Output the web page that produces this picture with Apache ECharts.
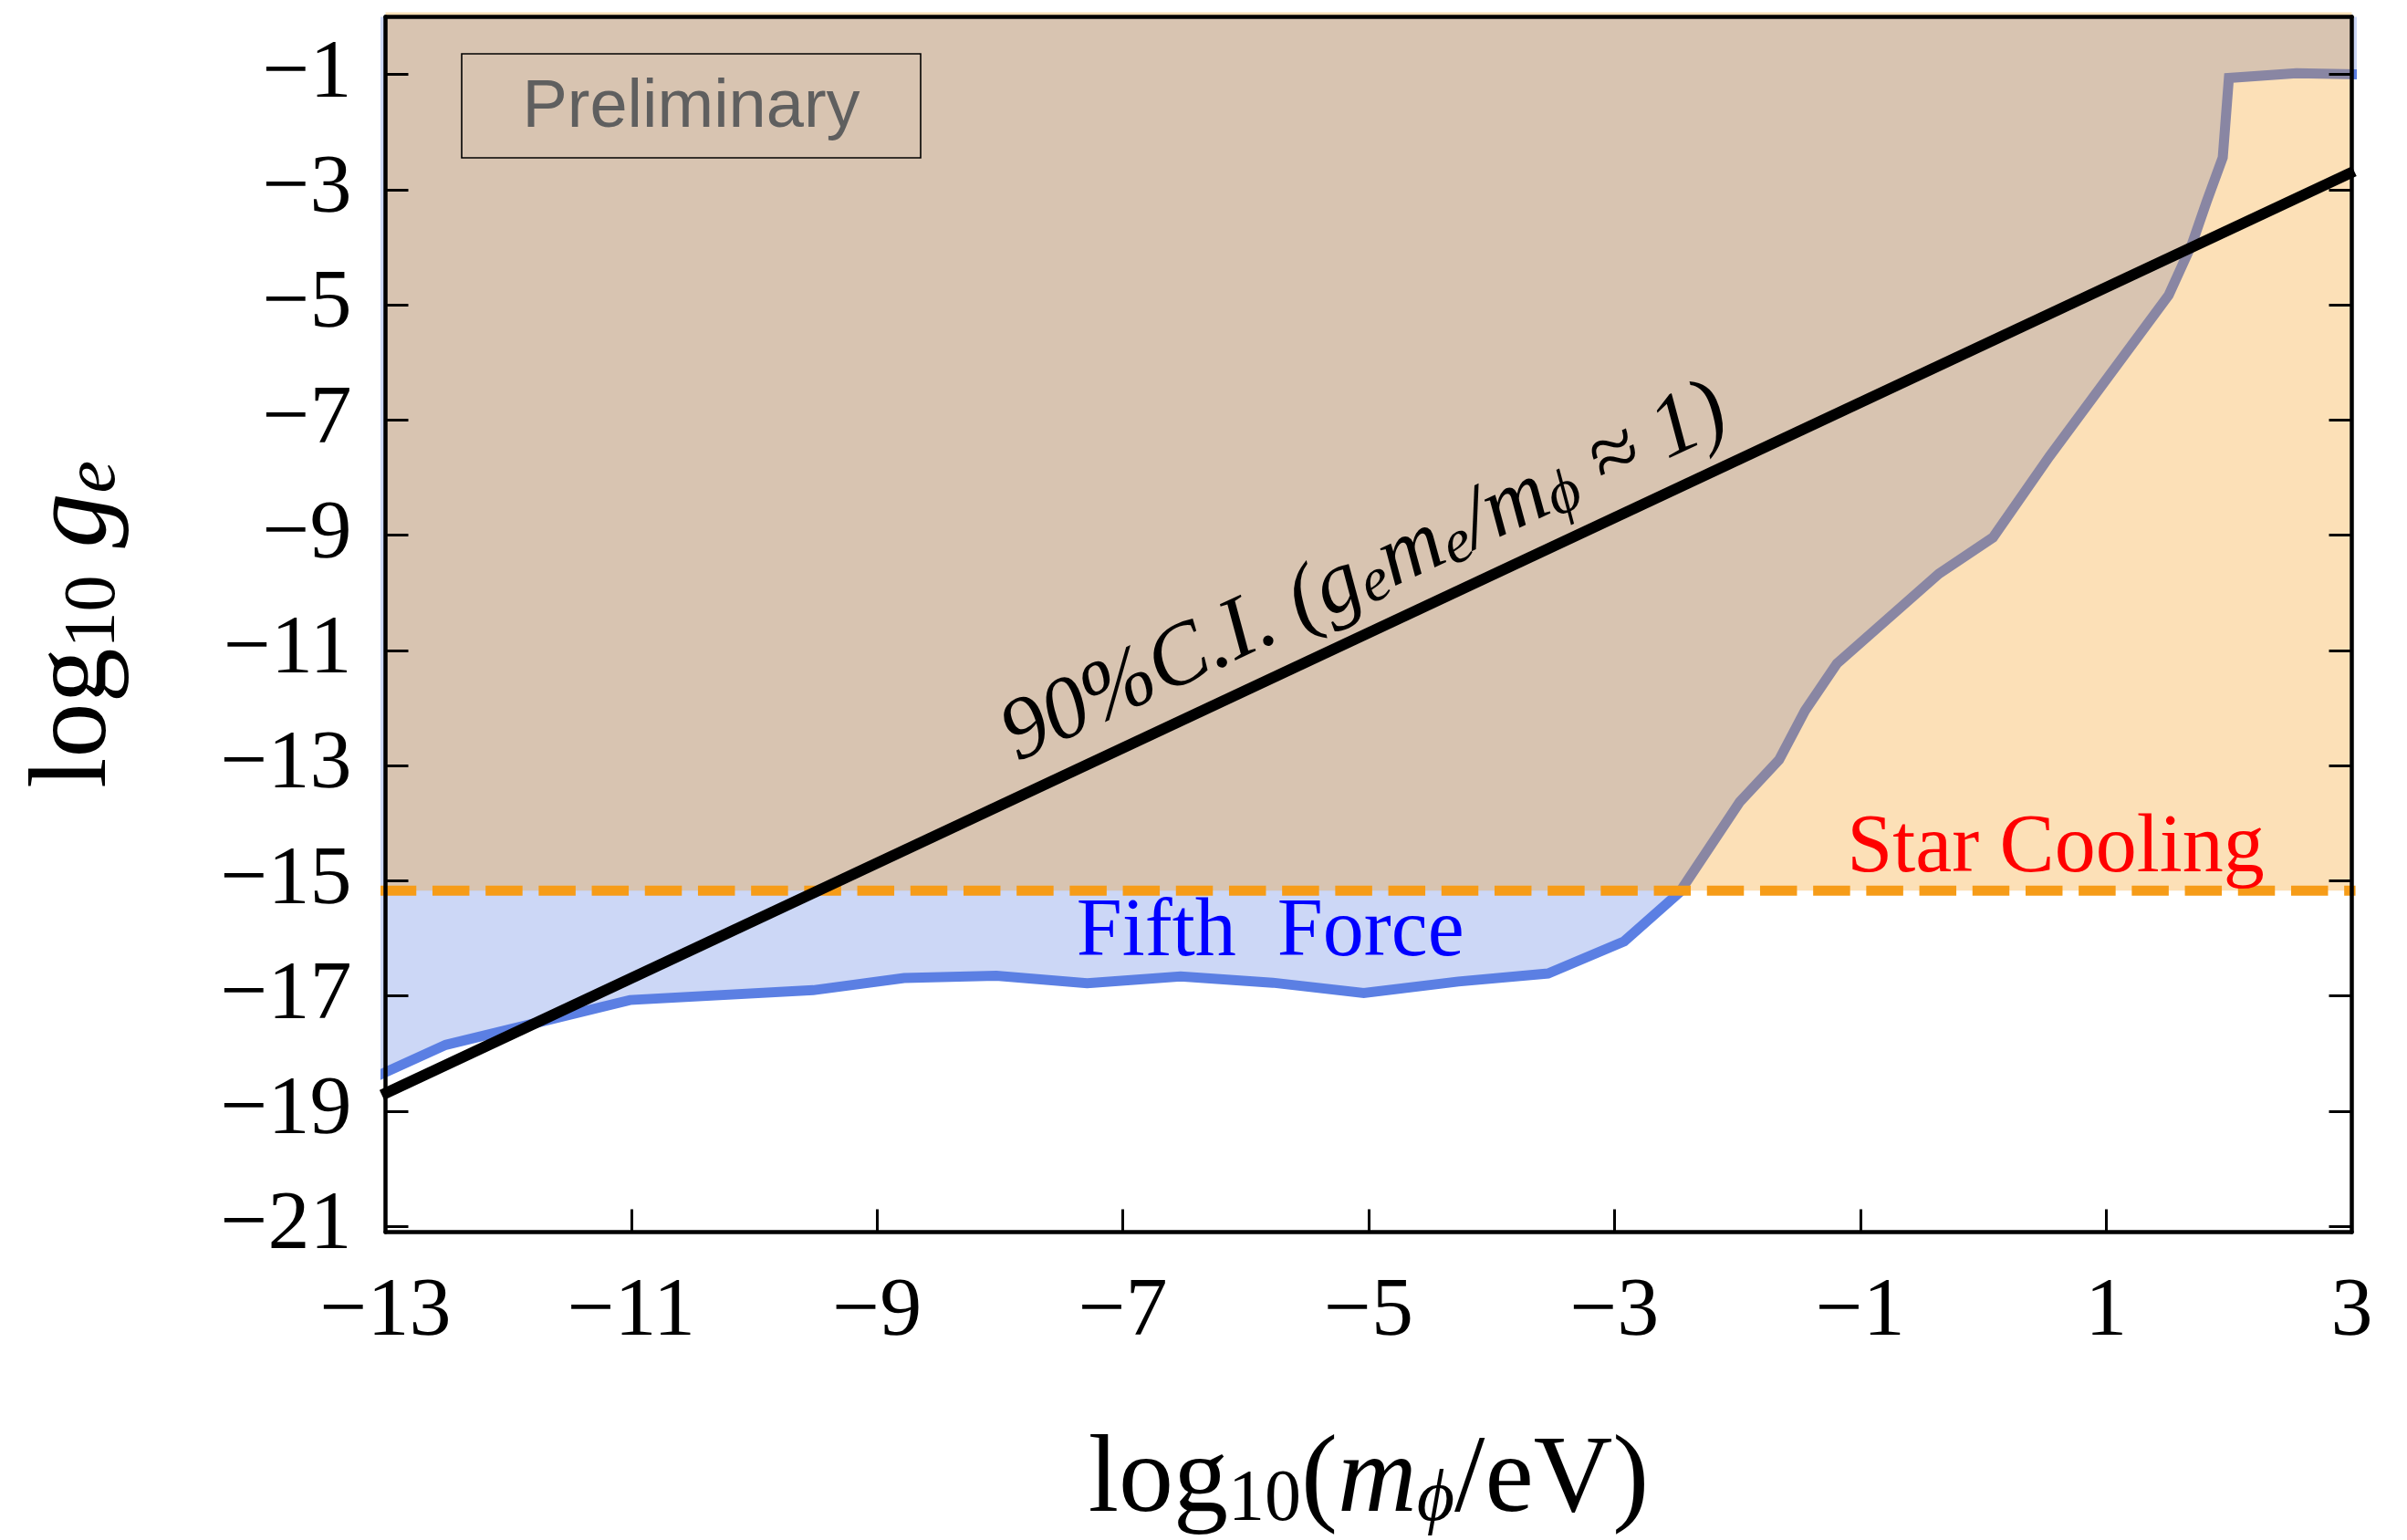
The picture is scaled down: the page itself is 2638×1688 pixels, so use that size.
<!DOCTYPE html>
<html>
<head>
<meta charset="utf-8">
<title>Fifth force vs star cooling</title>
<script src="https://cdn.jsdelivr.net/npm/echarts@6.0.0/dist/echarts.min.js"></script>
<style>
html,body{margin:0;padding:0;background:#ffffff;}
#chart{width:2638px;height:1688px;}
</style>
</head>
<body>
<div id="chart"></div>
<script>
// ---------------- data ----------------
const xTicks = [-13, -11, -9, -7, -5, -3, -1, 1, 3];
const yTicks = [-21, -19, -17, -15, -13, -11, -9, -7, -5, -3, -1];

// Fifth-force bound (blue): x = log10(m_phi/eV), y = log10(g_e)
const fifthForceX = [-13.08, -12.51, -11.01, -9.52, -8.78, -8.03, -7.29, -6.53, -5.78, -5.04, -4.27, -3.54, -2.92, -2.47, -1.98, -1.66, -1.45, -1.19, -0.36, 0.08, 0.54, 1.51, 1.70, 1.82, 1.95, 2.00, 2.55, 3.06];
const fifthForceY = [-18.40, -17.85, -17.07, -16.90, -16.69, -16.65, -16.78, -16.66, -16.77, -16.95, -16.75, -16.61, -16.05, -15.20, -13.63, -12.90, -12.05, -11.23, -9.67, -9.04, -7.63, -4.83, -3.94, -3.20, -2.44, -1.06, -0.98, -1.00];

// Star-cooling bound (orange, horizontal)
const starCoolingX = [-13.0, 3.0];
const starCoolingY = [-15.17, -15.17];
const starCoolingLineX = [-13.05, 3.03];
const starCoolingLineY = [-15.17, -15.17];

// 90% C.I. line (g_e m_e / m_phi ~ 1)
const ciX = [-13.03, 3.02];
const ciY = [-18.72, -2.68];

// -------------------------------------------------------------
const zip = (xs, ys) => xs.map((x, i) => [x, ys[i]]);
const fmt = v => (v < 0 ? '\u2212' : '') + Math.abs(v);

const SERIF = 'Liberation Serif';
const frameLine = { color: '#000', width: 4.5 };
const tickLine = { color: '#000', width: 3 };

const nameRich = {
  t:  { fontFamily: SERIF, fontSize: 120, lineHeight: 128, verticalAlign: 'bottom', color: '#000' },
  i:  { fontFamily: SERIF, fontStyle: 'italic', fontSize: 120, lineHeight: 128, verticalAlign: 'bottom', color: '#000' },
  s:  { fontFamily: SERIF, fontSize: 80, lineHeight: 48, verticalAlign: 'bottom', color: '#000' },
  si: { fontFamily: SERIF, fontStyle: 'italic', fontSize: 80, lineHeight: 48, verticalAlign: 'bottom', color: '#000' }
};

const ciRich = {
  t: { fontFamily: SERIF, fontStyle: 'italic', fontSize: 96, lineHeight: 110, verticalAlign: 'bottom', color: '#000' },
  s: { fontFamily: SERIF, fontStyle: 'italic', fontSize: 68, lineHeight: 54, verticalAlign: 'bottom', color: '#000' }
};

const noBorder = { textBorderWidth: 0, textBorderColor: 'transparent', textShadowBlur: 0 };

const chart = echarts.init(document.getElementById('chart'), null, { renderer: 'canvas' });

const option = {
  animation: false,
  backgroundColor: '#ffffff',
  grid: { left: 422.5, right: 60.5, top: 18.5, bottom: 337.5, containLabel: false, outerBoundsMode: 'none' },
  xAxis: [
    {
      type: 'value', min: -13, max: 3, position: 'bottom', z: 10,
      axisLine: { show: true, onZero: false, lineStyle: frameLine },
      axisTick: { show: true, inside: true, length: 25, customValues: xTicks, lineStyle: tickLine },
      axisLabel: { show: true, customValues: xTicks, margin: 42, formatter: fmt,
                   fontFamily: SERIF, fontSize: 92, color: '#000' },
      splitLine: { show: false },
      name: '{t|log}{s|10}{t|(}{i|m}{si|\u03D5}{t|/eV)}',
      nameLocation: 'middle', nameGap: 206, nameMoveOverlap: false,
      nameTextStyle: { rich: nameRich }
    },
    {
      type: 'value', min: -13, max: 3, position: 'top', z: 10,
      axisLine: { show: true, onZero: false, lineStyle: frameLine },
      axisTick: { show: false }, axisLabel: { show: false }, splitLine: { show: false }
    }
  ],
  yAxis: [
    {
      type: 'value', min: -21.1, max: 0, position: 'left', z: 10,
      axisLine: { show: true, onZero: false, lineStyle: frameLine },
      axisTick: { show: true, inside: true, length: 25, customValues: yTicks, lineStyle: tickLine },
      axisLabel: { show: true, customValues: yTicks, margin: 37, formatter: fmt,
                   fontFamily: SERIF, fontSize: 92, color: '#000' },
      splitLine: { show: false },
      name: '{t|log}{s|10}{t| }{i|g}{si|e}',
      nameLocation: 'middle', nameGap: 279, nameMoveOverlap: false,
      nameTextStyle: { rich: nameRich }
    },
    {
      type: 'value', min: -21.1, max: 0, position: 'right', z: 10,
      axisLine: { show: true, onZero: false, lineStyle: frameLine },
      axisTick: { show: true, inside: true, length: 25, customValues: yTicks, lineStyle: tickLine },
      axisLabel: { show: false }, splitLine: { show: false }
    }
  ],
  graphic: [
    { type: 'rect', z: 100, shape: { x: 506, y: 59, width: 503, height: 114 },
      style: { fill: 'none', stroke: '#000', lineWidth: 1.6 } },
    { type: 'text', z: 100, x: 757.5, y: 119,
      style: { text: 'Preliminary', fontFamily: 'Liberation Sans', fontSize: 74, fill: '#5f5f5f',
               align: 'center', verticalAlign: 'middle', textAlign: 'center', textVerticalAlign: 'middle' } }
  ],
  series: [
    {
      name: 'Fifth Force', type: 'line', data: zip(fifthForceX, fifthForceY),
      showSymbol: false, symbol: 'none', clip: false, silent: true, z: 2,
      lineStyle: { color: '#5b7fe3', width: 11, opacity: 1, join: 'miter' },
      areaStyle: { color: 'rgba(91,127,227,0.31)', opacity: 1, origin: 'end' }
    },
    {
      name: 'Star Cooling', type: 'line', data: zip(starCoolingX, starCoolingY),
      showSymbol: false, symbol: 'none', clip: false, silent: true, z: 3,
      lineStyle: { width: 0, opacity: 0 },
      areaStyle: { color: 'rgba(245,152,18,0.3)', opacity: 1, origin: 0.08 }
    },
    {
      name: 'Star Cooling bound', type: 'line', data: zip(starCoolingLineX, starCoolingLineY),
      showSymbol: false, symbol: 'none', clip: false, silent: true, z: 4,
      lineStyle: { color: '#f69c18', width: 11, opacity: 1, type: [40.5, 17.7], cap: 'butt' }
    },
    {
      name: '90% C.I.', type: 'line', data: zip(ciX, ciY),
      showSymbol: false, symbol: 'none', clip: false, silent: true, z: 5,
      lineStyle: { color: '#000', width: 12, opacity: 1, cap: 'butt' }
    },
    {
      name: 'labels', type: 'scatter', symbolSize: 0, silent: true, z: 6,
      itemStyle: { opacity: 1 },
      data: [
        { value: [-5.05, -9.58],
          label: Object.assign({ show: true, position: 'inside', rotate: 25, align: 'center', verticalAlign: 'middle',
                   color: '#000', opacity: 1,
                   formatter: '{t|90%C.I. (g}{s|e}{t|m}{s|e}{t|/m}{s|\u03D5}{t| \u2248 1)}', rich: ciRich }, noBorder) },
        { value: [0.59, -14.46],
          label: Object.assign({ show: true, position: 'inside', align: 'center', verticalAlign: 'middle', opacity: 1,
                   formatter: 'Star Cooling', fontFamily: SERIF, fontSize: 90, color: '#ff0000' }, noBorder) },
        { value: [-5.80, -15.92],
          label: Object.assign({ show: true, position: 'inside', align: 'center', verticalAlign: 'middle', opacity: 1,
                   formatter: 'Fifth  Force', fontFamily: SERIF, fontSize: 90, color: '#0000ff' }, noBorder) }
      ]
    }
  ]
};

chart.setOption(option);
</script>
</body>
</html>
